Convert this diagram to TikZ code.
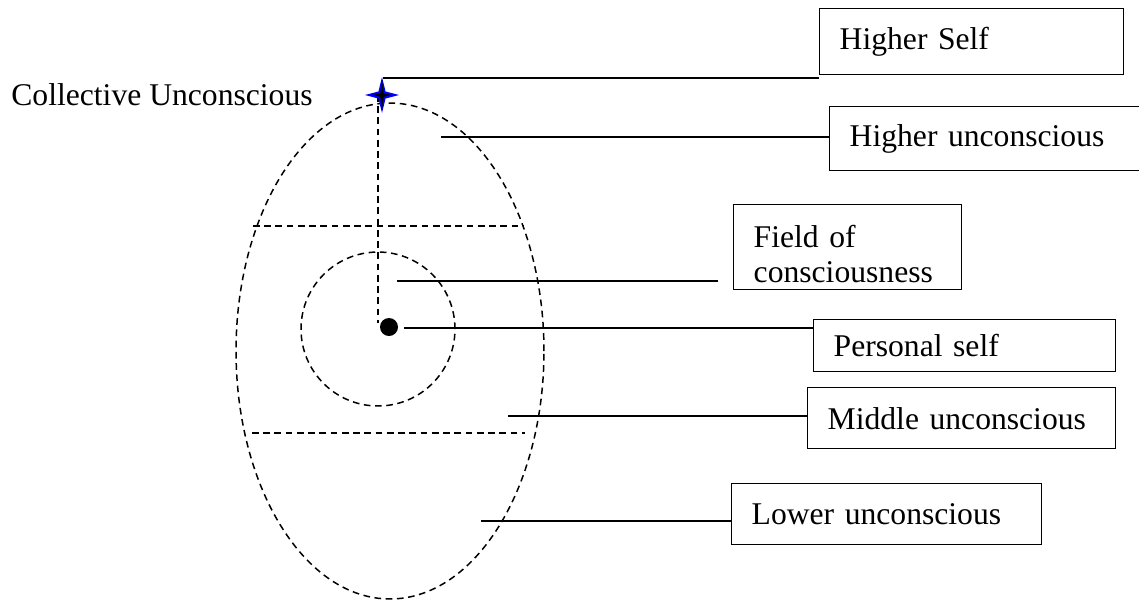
\documentclass[tikz,border=0pt]{standalone}
\usepackage{fontspec}
\setmainfont{Liberation Serif}
\usepackage{pgf,tikz}

\begin{document}
\begin{tikzpicture}[x=0.02cm,y=-0.02cm,
  lead/.style={line width=1pt},
  dsh/.style={line width=0.85pt,dash pattern=on 3.8pt off 2.6pt},
  labelbox/.style={draw,line width=0.8pt,anchor=north west,align=left,inner xsep=0.4cm,inner ysep=0pt,font=\fontsize{18}{20}\selectfont}]
\definecolor{qqqqff}{rgb}{0,0,1}
\clip(0,0) rectangle (1139,600);
\draw [dsh] (390,351) ellipse [x radius=3.08cm, y radius=4.96cm];
\coordinate (ul) at (253,226);
\coordinate (ur) at (523,226);
\coordinate (ll) at (252,433);
\coordinate (lr) at (525,433);
\draw [dsh] (ul)-- (ur);
\draw [dsh] (ll)-- (lr);
\draw [dsh] (378,329) circle [radius=1.54cm];
\coordinate (vtop) at (378,95);
\coordinate (vbot) at (378,323);
\draw [dsh] (vtop)-- (vbot);
\fill [black] (389,327) circle [radius=0.18cm];
\coordinate (star) at (382,95);
\coordinate (startop) at (383,78);
\fill [qqqqff] (star) +(0:17) -- +(45:5) -- +(90:18) -- +(135:5) -- +(180:17) -- +(225:5) -- +(270:18) -- +(315:5) -- cycle;
\fill [black] (star) +(0:9) -- +(45:2.5) -- +(90:15) -- +(135:2.5) -- +(180:9) -- +(225:2.5) -- +(270:15) -- +(315:2.5) -- cycle;
\node [anchor=base west,inner sep=0pt,font=\fontsize{18}{20}\selectfont] (coll) at (11,105) {Collective Unconscious};
\node [labelbox,text width=5.28cm,minimum height=1.32cm] (hself) at (819,8) {Higher Self};
\node [labelbox,text width=5.6cm,minimum height=1.28cm] (hunc) at (829,106) {Higher unconscious};
\node [labelbox,text width=3.76cm,minimum height=1.7cm] (field) at (733,204) {\rule{0pt}{20pt}Field of\\consciousness};
\node [labelbox,text width=5.24cm,minimum height=1.04cm] (pself) at (813,319) {Personal self};
\node [labelbox,text width=5.36cm,minimum height=1.22cm] (munc) at (807,387) {Middle unconscious};
\node [labelbox,text width=5.4cm,minimum height=1.22cm] (lunc) at (731,483) {Lower unconscious};
\coordinate (hu) at (441,137);
\coordinate (fc) at (397,281);
\coordinate (fcend) at (718,281);
\coordinate (ps) at (404,328);
\coordinate (mu) at (508,416);
\coordinate (lu) at (481,521);
\draw [lead] (startop)-- (startop -| hself.west);
\draw [lead] (hu)-- (hu -| hunc.west);
\draw [lead] (fc)-- (fcend);
\draw [lead] (ps)-- (ps -| pself.west);
\draw [lead] (mu)-- (mu -| munc.west);
\draw [lead] (lu)-- (lu -| lunc.west);
\end{tikzpicture}
\end{document}
